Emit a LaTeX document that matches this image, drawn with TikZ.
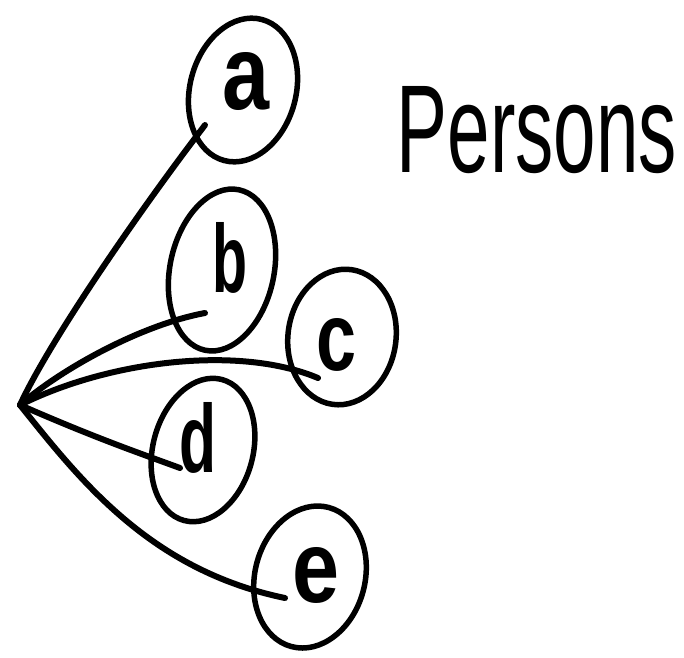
\documentclass[tikz,border=0pt]{standalone}
\usepackage{fontspec}
\usepackage{graphicx}
\setmainfont{Liberation Sans}
\usetikzlibrary{shapes.geometric}
\begin{document}
\begin{tikzpicture}[x=1pt,y=-1pt,line cap=round,line join=round,
  person/.style={draw, ellipse, line width=5.5pt, inner sep=0pt},
  wire/.style={line width=6pt},
  lbl/.style={inner sep=0pt, font=\bfseries}]
\useasboundingbox (0,0) rectangle (684,657);
% persons
\node[person, minimum width=106pt, minimum height=146pt, rotate=-15] (a) at (243,90) {};
\node[person, minimum width=104pt, minimum height=164pt, rotate=-12] (b) at (222,270) {};
\node[person, minimum width=108pt, minimum height=136pt, rotate=-8] (c) at (342,337) {};
\node[person, minimum width=100pt, minimum height=146pt, rotate=-15] (d) at (203,450) {};
\node[person, minimum width=110pt, minimum height=144pt, rotate=-15] (e) at (310,577) {};
% labels
\node[lbl] (la) at (246,81) {\resizebox{47pt}{57pt}{a}};
\node[lbl] (lb) at (230,258) {\resizebox{35pt}{70pt}{b}};
\node[lbl] (lc) at (337,345) {\resizebox{40pt}{52pt}{c}};
\node[lbl] (ld) at (198,438) {\resizebox{37pt}{70pt}{d}};
\node[lbl] (le) at (316,575) {\resizebox{47pt}{55pt}{e}};
\node[lbl, font=\mdseries] (title) at (537,130) {\resizebox{280pt}{86pt}{Persons}};
% connectors
\coordinate (o) at (20,405);
\coordinate (ta) at (205,125);
\coordinate (tb) at (205,313);
\coordinate (tc) at (318,378);
\coordinate (td) at (180,468);
\coordinate (te) at (285,598);
\draw[wire] (o) .. controls (50,340) and (140,210) .. (ta);
\draw[wire] (o) .. controls (60,370) and (140,325) .. (tb);
\draw[wire] (o) .. controls (110,360) and (240,345) .. (tc);
\draw[wire] (o) .. controls (100,440) and (145,455) .. (td);
\draw[wire] (o) .. controls (80,480) and (150,570) .. (te);
\end{tikzpicture}
\end{document}
